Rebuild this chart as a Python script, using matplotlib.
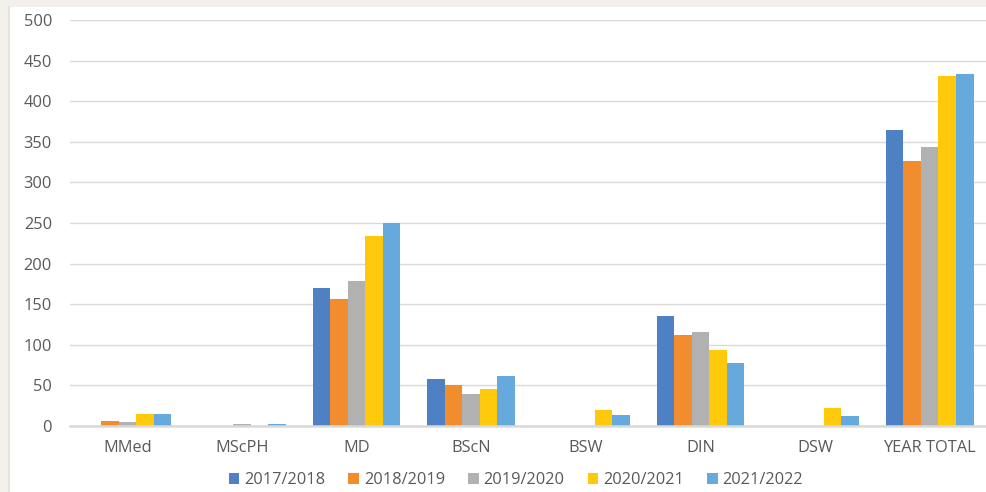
import matplotlib
matplotlib.use("Agg")
import matplotlib.pyplot as plt
from matplotlib.patches import Rectangle
import numpy as np

plt.rcParams['font.family'] = ['Open Sans', 'DejaVu Sans']

categories = ["MMed", "MScPH", "MD", "BScN", "BSW", "DIN", "DSW", "YEAR TOTAL"]
years = ["2017/2018", "2018/2019", "2019/2020", "2020/2021", "2021/2022"]
y2017 = [0, 0, 170, 58, 0, 136, 0, 364]
y2018 = [6, 0, 157, 51, 0, 112, 0, 326]
y2019 = [5, 3, 179, 40, 0, 116, 0, 343]
y2020 = [15, 0, 234, 46, 20, 94, 22, 431]
y2021 = [15, 2, 250, 62, 14, 78, 12, 433]
series = [y2017, y2018, y2019, y2020, y2021]
colors = ["#4e81c4", "#f18d2f", "#b1b1b1", "#fec90a", "#66a9dd"]

fig = plt.figure(figsize=(9.86, 4.92), dpi=100)
fig.patch.set_facecolor("#f3efeb")
# white chart panel inside the beige frame
fig.add_artist(Rectangle((9/986, 0), 1, 1 - 7/492, transform=fig.transFigure,
                         facecolor="white", edgecolor="none", zorder=0))
fig.add_artist(plt.Line2D([9/986, 9/986], [0, 1 - 7/492], transform=fig.transFigure,
                          color="#e4e0dc", lw=1.2, zorder=1))

ax = fig.add_axes([70/986, 1 - 426/492, 917/986, 406/492])
ax.set_facecolor("none")

x = np.arange(len(categories))
w = 0.153
for i, (vals, lab, c) in enumerate(zip(series, years, colors)):
    ax.bar(x + (i - 2) * w, vals, width=w, color=c, label=lab, zorder=3)

ax.set_xlim(-0.5, len(categories) - 0.5)
ax.set_ylim(0, 500)
ax.set_yticks(range(0, 501, 50))
ax.set_xticks(x)
ax.set_xticklabels(categories)
ax.grid(axis="y", color="#d9d9d9", lw=1, zorder=0)
for s in ["top", "right", "left"]:
    ax.spines[s].set_visible(False)
ax.spines["bottom"].set_color("#d9d9d9")
ax.spines["bottom"].set_linewidth(1.8)
ax.spines["bottom"].set_zorder(4)
ax.tick_params(axis="both", length=0, colors="#595959", labelsize=11.8)
ax.tick_params(axis="x", pad=10)
ax.tick_params(axis="y", pad=13)

fig.legend(loc="center", bbox_to_anchor=(516/986, 1 - 480/492), ncol=5, frameon=False,
           fontsize=11.8, handlelength=0.65, handleheight=0.65, handletextpad=0.3,
           columnspacing=1.4, labelcolor="#595959")

fig.savefig("out.png", dpi=100, facecolor=fig.get_facecolor())
